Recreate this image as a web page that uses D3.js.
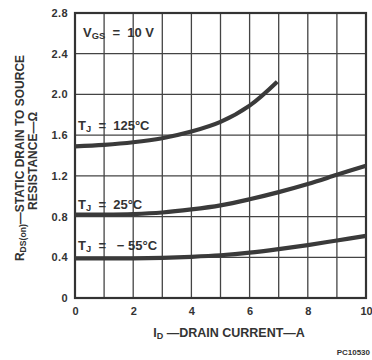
<!DOCTYPE html>
<html>
<head>
<meta charset="utf-8">
<script src="https://cdn.jsdelivr.net/npm/d3@7"></script>
<style>
  html, body { margin: 0; padding: 0; background: #fff; }
  svg { display: block; }
  text { font-family: "Liberation Sans", Arial, Helvetica, sans-serif; font-weight: bold; fill: #333; }
</style>
</head>
<body>
<script>
// ---- data ----
const currentA = [0, 1, 2, 3, 4, 5, 6, 6.95];
const r125 = [1.49, 1.505, 1.53, 1.57, 1.635, 1.73, 1.89, 2.125];

const currentB = [0, 1, 2, 3, 4, 5, 6, 7, 8, 9, 10];
const r25 = [0.82, 0.82, 0.825, 0.84, 0.87, 0.91, 0.97, 1.04, 1.12, 1.21, 1.30];
const rm55 = [0.39, 0.39, 0.39, 0.395, 0.405, 0.42, 0.445, 0.48, 0.52, 0.565, 0.61];

const xTicks = [0, 2, 4, 6, 8, 10];
const yTicks = [0, 0.4, 0.8, 1.2, 1.6, 2.0, 2.4, 2.8];
const xGrid = [1, 2, 3, 4, 5, 6, 7, 8, 9];
const yGrid = [0.4, 0.8, 1.2, 1.6, 2.0, 2.4];

const W = 372, H = 360;
const svg = d3.select("body").append("svg").attr("width", W).attr("height", H);

const x = d3.scaleLinear().domain([0, 10]).range([75, 366]);
const y = d3.scaleLinear().domain([0, 2.8]).range([298, 13]);

const ink = "#333";

// grid
svg.append("g").selectAll("line").data(xGrid).join("line")
  .attr("x1", d => x(d)).attr("x2", d => x(d))
  .attr("y1", y(0)).attr("y2", y(2.8))
  .attr("stroke", "#444").attr("stroke-width", 1.3);
svg.append("g").selectAll("line").data(yGrid).join("line")
  .attr("x1", x(0)).attr("x2", x(10))
  .attr("y1", d => y(d)).attr("y2", d => y(d))
  .attr("stroke", "#444").attr("stroke-width", 1.3);

// frame
svg.append("rect")
  .attr("x", x(0)).attr("y", y(2.8))
  .attr("width", x(10) - x(0)).attr("height", y(0) - y(2.8))
  .attr("fill", "none").attr("stroke", ink).attr("stroke-width", 2.2);

// axes labels
const yAxis = d3.axisLeft(y).tickValues(yTicks).tickSize(0).tickPadding(7)
  .tickFormat(d => d === 0 ? "0" : d3.format(".1f")(d));
const gy = svg.append("g").attr("transform", `translate(${x(0)},0)`).call(yAxis);
gy.select(".domain").remove();
gy.selectAll("text").attr("font-size", 11).style("letter-spacing", "0.4px")
  .attr("font-family", "Liberation Sans, Arial, sans-serif").attr("font-weight", "bold").attr("fill", ink);

const xAxis = d3.axisBottom(x).tickValues(xTicks).tickSize(0).tickPadding(9).tickFormat(d3.format("d"));
const gx = svg.append("g").attr("transform", `translate(0,${y(0)})`).call(xAxis);
gx.select(".domain").remove();
gx.selectAll("text").attr("font-size", 11)
  .attr("font-family", "Liberation Sans, Arial, sans-serif").attr("font-weight", "bold").attr("fill", ink);

// curves
const line = d3.line().x(d => x(d[0])).y(d => y(d[1])).curve(d3.curveCatmullRom.alpha(0.5));
const series = [
  d3.zip(currentA, r125),
  d3.zip(currentB, r25),
  d3.zip(currentB, rm55)
];
svg.append("g").selectAll("path").data(series).join("path")
  .attr("d", line)
  .attr("fill", "none").attr("stroke", "#3a3a3a").attr("stroke-width", 4.2)
  .attr("stroke-linecap", "butt");

// annotation labels
function subLabel(xp, yp, main, sub, rest, size) {
  const t = svg.append("text").attr("x", xp).attr("y", yp).attr("font-size", size)
    .attr("xml:space", "preserve").style("white-space", "pre");
  t.append("tspan").text(main);
  t.append("tspan").attr("font-size", size * 0.72).attr("dy", 2).text(sub);
  t.append("tspan").attr("dy", -2).text(rest);
  return t;
}
subLabel(83, 37, "V", "GS", "  =  10 V", 13);
subLabel(78, 130, "T", "J", "  =  125°C", 13);
subLabel(78, 209, "T", "J", "  =  25°C", 13);
subLabel(78, 250, "T", "J", "  =   − 55°C", 13);

// x title
const xt = svg.append("text").attr("x", 229).attr("y", 337).attr("text-anchor", "middle")
  .attr("font-size", 12.5).style("white-space", "pre");
xt.append("tspan").text("I");
xt.append("tspan").attr("font-size", 9).attr("dy", 2).text("D");
xt.append("tspan").attr("dy", -2).text(" —DRAIN CURRENT—A");

// y title
const yt1 = svg.append("text").attr("transform", "translate(24,158) rotate(-90)")
  .attr("text-anchor", "middle").attr("font-size", 12);
yt1.append("tspan").text("R");
yt1.append("tspan").attr("font-size", 8.6).attr("dy", 2).text("DS(on)");
yt1.append("tspan").attr("dy", -2).text("—STATIC DRAIN TO SOURCE");
svg.append("text").attr("transform", "translate(37,161) rotate(-90)")
  .attr("text-anchor", "middle").attr("font-size", 12).text("RESISTANCE—Ω");

// figure code
svg.append("text").attr("x", 370).attr("y", 355).attr("font-size", 8)
  .attr("text-anchor", "end").attr("font-weight", "normal").text("PC10530");
</script>
</body>
</html>
